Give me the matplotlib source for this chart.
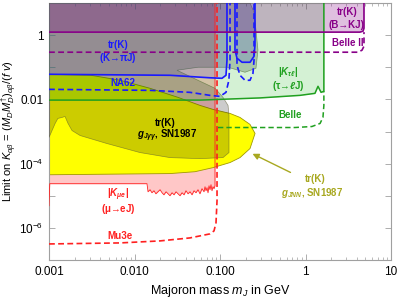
import numpy as np
import matplotlib
matplotlib.use("Agg")
import matplotlib.pyplot as plt
from matplotlib.ticker import FixedLocator, FixedFormatter, NullFormatter, LogLocator

plt.rcParams['font.family'] = ['Liberation Sans', 'DejaVu Sans']
plt.rcParams['mathtext.fontset'] = 'custom'
plt.rcParams['mathtext.rm'] = 'Liberation Sans'
plt.rcParams['mathtext.it'] = 'Liberation Sans:italic'
plt.rcParams['mathtext.bf'] = 'Liberation Sans:bold'
plt.rcParams['mathtext.bfit'] = 'Liberation Sans:italic:bold'

# ---------------- data: Majoron mass m_J [GeV] vs limit on K ----------------
# |K_mue| from mu -> e J (existing limit, lower edge of pink region)
mue_mass = [0.001, 0.00102, 0.0140, 0.0144, 0.0152, 0.0160, 0.0169, 0.0178, 0.0188,
            0.0199, 0.0210, 0.0221, 0.0234, 0.0247, 0.0260, 0.0275, 0.0290, 0.0306,
            0.0323, 0.0341, 0.0360, 0.0380, 0.0400, 0.0423, 0.0446, 0.0471, 0.0497,
            0.0524, 0.0553, 0.0583, 0.0616, 0.0650, 0.0668, 0.0686, 0.0705, 0.0724,
            0.0744, 0.0764, 0.0785, 0.0806, 0.0828, 0.0851, 0.0874]
mue_K = [4.9e-6, 2.37e-5, 2.37e-5, 1.33e-5, 1.54e-5, 1.24e-5, 1.43e-5, 1.15e-5, 1.33e-5,
         1.54e-5, 1.24e-5, 1.07e-5, 1.33e-5, 1.15e-5, 1.0e-5, 1.24e-5, 1.07e-5, 1.33e-5,
         1.15e-5, 1.0e-5, 1.24e-5, 1.07e-5, 1.43e-5, 1.15e-5, 1.33e-5, 1.07e-5, 1.43e-5,
         1.24e-5, 1.54e-5, 1.15e-5, 1.66e-5, 1.33e-5, 1.91e-5, 1.43e-5, 1.78e-5, 1.24e-5,
         2.05e-5, 1.54e-5, 2.21e-5, 1.43e-5, 1.91e-5, 1.66e-5, 2.05e-5]

# Mu3e projection
mu3e_mass = [0.001, 0.00676, 0.0199, 0.0446, 0.0763, 0.0851, 0.0898, 0.0923, 0.0923]
mu3e_K = [3.16e-7, 3.4e-7, 3.93e-7, 4.87e-7, 6.5e-7, 8.05e-7, 1.44e-6, 7e-6, 10]

# tr(K), g_JNN SN1987 (yellow region outline)
jnn_mass = [0.001, 0.0031, 0.0068, 0.0152, 0.0323, 0.0583, 0.0828, 0.131, 0.1714,
            0.2244, 0.257, 0.2244, 0.1714, 0.131, 0.0828, 0.051, 0.026, 0.001]
jnn_K = [0.0604, 0.0562, 0.0393, 0.0221, 0.01155, 0.0065, 0.00487, 0.00365, 0.00274,
         0.00166, 0.00087, 0.000295, 0.000154, 0.000108, 7.5e-5, 5.6e-5, 4.9e-5, 4.5e-5]

# tr(K), g_Jgammagamma SN1987 (gray region outline)
jgg_mass = [0.001, 0.2244, 0.250, 0.2636, 0.278, 0.2636, 0.196, 0.1242, 0.0553, 0.0314,
            0.0553, 0.0875, 0.1084, 0.1242, 0.1274, 0.1274, 0.1084, 0.0583, 0.026, 0.0116,
            0.00476, 0.00231, 0.00186, 0.00167, 0.00154, 0.00142, 0.00127, 0.00118, 0.001]
jgg_K = [10, 10, 5.24, 1.43, 0.34, 0.093, 0.0698, 0.1, 0.1, 0.0805,
         0.0393, 0.0221, 0.01155, 0.0065, 0.00316, 0.000221, 0.000154, 0.000143, 0.000154, 0.000221,
         0.000422, 0.00075, 0.00107, 0.00178, 0.00294, 0.00274, 0.00255, 0.00178, 0.00065]

# tr(K) from K -> pi J (NA62): existing (solid) and projection (dashed)
kpi_mass = [0.001, 0.026, 0.0763, 0.1054, 0.1175, 0.1207, 0.1207]
kpi_K = [0.0604, 0.0562, 0.047, 0.0453, 0.0562, 0.166, 10]
kpi2_mass = [0.1497, 0.1497, 0.158, 0.181, 0.2244, 0.250, 0.2566, 0.2566]
kpi2_K = [10, 0.34, 0.191, 0.143, 0.143, 0.22, 0.487, 10]
na62_mass = [0.001, 0.0152, 0.0446, 0.0763, 0.1, 0.1175, 0.127, 0.131, 0.131]
na62_K = [0.0205, 0.0191, 0.01655, 0.01334, 0.0124, 0.01655, 0.0393, 0.166, 10]
na62b_mass = [0.158, 0.158, 0.1714, 0.196, 0.2244, 0.243, 0.250, 0.250]
na62b_K = [10, 0.1155, 0.0562, 0.0393, 0.0393, 0.065, 0.166, 10]

# |K_tau l| from tau -> l J: existing (solid) and Belle projection (dashed)
taul_mass = [0.001, 0.0583, 0.294, 0.862, 1.29, 1.40, 1.52, 1.64, 1.64]
taul_K = [0.0095, 0.0095, 0.0111, 0.01334, 0.0154, 0.0255, 0.01655, 0.0178, 10]
belle_mass = [0.0947, 0.753, 1.19, 1.48, 1.60, 1.64, 1.64]
belle_K = [0.00133, 0.00133, 0.00143, 0.00178, 0.00274, 0.0065, 0.0178]

# tr(K) from B -> K J: existing (solid) and Belle II projection (dashed)
bk_mass = [0.001, 4.33, 4.71, 4.83, 4.83]
bk_K = [1.24, 1.24, 1.33, 1.65, 10]
belle2_mass = [0.001, 4.11, 4.58, 4.83, 4.83]
belle2_K = [0.294, 0.294, 0.34, 0.453, 1.24]

x_ticks = [0.001, 0.01, 0.1, 1, 10]
x_ticklabels = ["0.001", "0.010", "0.100", "1", "10"]
y_ticks = [1e-7, 1e-6, 1e-5, 1e-4, 1e-3, 1e-2, 1e-1, 1, 10]
y_ticklabels = ["", r"$10^{-6}$", "", r"$10^{-4}$", "", "0.01", "", "1", ""]

# ---------------- figure ----------------
W, H = 399, 301
fig = plt.figure(figsize=(W / 100, H / 100), dpi=100)
ax = fig.add_axes([49 / W, 1 - 260 / H, (391 - 49) / W, (260 - 3) / H])
ax.set_xscale('log')
ax.set_yscale('log')
xmin, xmax, ymin, ymax = 1e-3, 10, 1e-7, 10
ax.set_xlim(xmin, xmax)
ax.set_ylim(ymin, ymax)

RED = '#ff2020'
YEL = '#ffff00'
GRN = '#20a020'
BLU = '#1a1aff'
PUR = '#880088'
OLV = '#a8a820'

# fills
ax.fill_between(mue_mass, mue_K, ymax, color='#ff0000', alpha=0.22, lw=0, zorder=1)
ax.fill(jnn_mass, jnn_K, facecolor=YEL, edgecolor='#a09a00', lw=0.6, zorder=2)
ax.fill(jgg_mass, jgg_K, facecolor=(0, 0, 0, 0.2), edgecolor=(0.35, 0.35, 0.2, 0.6), lw=0.5, zorder=3)
ax.fill_between(taul_mass, taul_K, ymax, color='#00b000', alpha=0.17, lw=0, zorder=4)
ax.fill_between(kpi_mass, kpi_K, ymax, color='#0000ff', alpha=0.12, lw=0, zorder=5)
ax.fill_between(kpi2_mass, kpi2_K, ymax, color='#0000ff', alpha=0.12, lw=0, zorder=5)
ax.fill_between(bk_mass, bk_K, ymax, color='#800080', alpha=0.25, lw=0, zorder=6)

# lines
ax.plot(mue_mass + [mue_mass[-1]], mue_K + [ymax], color=RED, lw=0.6, zorder=7)
ax.plot(mu3e_mass, mu3e_K, color=RED, lw=1.2, ls=(0, (3.5, 2)), zorder=8)
ax.plot(taul_mass, taul_K, color=GRN, lw=1.1, zorder=8)
ax.plot(belle_mass, belle_K, color=GRN, lw=1.1, ls=(0, (3.5, 2)), zorder=8)
ax.plot(kpi_mass, kpi_K, color=BLU, lw=1.2, zorder=8)
ax.plot(kpi2_mass, kpi2_K, color=BLU, lw=1.2, zorder=8)
ax.plot(na62_mass, na62_K, color=BLU, lw=1.2, ls=(0, (3.5, 2)), zorder=8)
ax.plot(na62b_mass, na62b_K, color=BLU, lw=1.2, ls=(0, (3.5, 2)), zorder=8)
ax.plot(bk_mass, bk_K, color=PUR, lw=1.2, zorder=8)
ax.plot(belle2_mass, belle2_K, color=PUR, lw=1.2, ls=(0, (3.5, 2)), zorder=8)

# labels
fs = 7
kw = dict(ha='center', va='center', fontsize=fs, fontweight='bold', zorder=10)
ax.text(0.00641, 0.487, "tr(K)", color=BLU, **kw)
ax.text(0.00641, 0.191, r"(K→$\mathbf{\pi}$J)", color=BLU, **kw)
ax.text(0.00734, 0.0316, "NA62", color=BLU, **kw)
ax.text(3.05, 5.2, "tr(K)", color=PUR, **kw)
ax.text(3.05, 2.05, "(B→KJ)", color=PUR, **kw)
ax.text(3.14, 0.56, "Belle II", color=PUR, **kw)
ax.text(0.624, 0.0698, r"|$\mathbfit{K}_{\mathbfit{\tau\ell}}$|", color=GRN, **kw)
ax.text(0.624, 0.0255, r"($\mathbf{\tau}$→$\mathbfit{\ell}$J)", color=GRN, **kw)
ax.text(0.659, 0.00316, "Belle", color=GRN, **kw)
ax.text(0.0227, 0.00178, "tr(K)", color='black', **kw)
ax.text(0.024, 0.00075, r"$\mathbfit{g}_{\mathbfit{J\gamma\gamma}}$, SN1987", color='black', **kw)
ax.text(1.29, 3.4e-5, "tr(K)", color=OLV, **kw)
ax.text(1.19, 1.24e-5, r"$\mathbfit{g}_{\mathbfit{JNN}}$, SN1987", color=OLV, **kw)
ax.text(0.00641, 1.1e-5, r"|$\mathbfit{K}_{\mathbfit{\mu e}}$|", color=RED, **kw)
ax.text(0.00641, 3.8e-6, r"($\mathbf{\mu}$→eJ)", color=RED, **kw)
ax.text(0.00676, 5.6e-7, "Mu3e", color=RED, **kw)
ax.annotate("", xy=(0.2244, 0.000221), xytext=(0.714, 4.87e-5),
            arrowprops=dict(arrowstyle='-|>', color=OLV, lw=1.0, mutation_scale=9), zorder=10)

# axes styling
for s in ax.spines.values():
    s.set_color('#a0a0a0')
    s.set_linewidth(0.8)
ax.xaxis.set_major_locator(FixedLocator(x_ticks))
ax.xaxis.set_major_formatter(FixedFormatter(x_ticklabels))
ax.xaxis.set_minor_locator(LogLocator(base=10, subs=np.arange(2, 10)))
ax.xaxis.set_minor_formatter(NullFormatter())
ax.yaxis.set_major_locator(FixedLocator(y_ticks))
ax.yaxis.set_major_formatter(FixedFormatter(y_ticklabels))
ax.yaxis.set_minor_locator(FixedLocator([]))
ax.yaxis.set_minor_formatter(NullFormatter())
ax.tick_params(which='both', direction='in', color='#a0a0a0', top=True, right=True,
               labelsize=8.5, pad=4)
ax.tick_params(which='major', length=4, width=0.6)
ax.tick_params(which='minor', length=2, width=0.5)

ax.set_xlabel(r"Majoron mass $m_J$ in GeV", fontsize=9, labelpad=4)
ax.set_ylabel(r"Limit on $K_{\alpha\beta}$ = $(M_D M_D^{\dagger})_{\alpha\beta}/(f\ v)$",
              fontsize=8, labelpad=1)

fig.savefig("out.png", dpi=100, facecolor='white')
